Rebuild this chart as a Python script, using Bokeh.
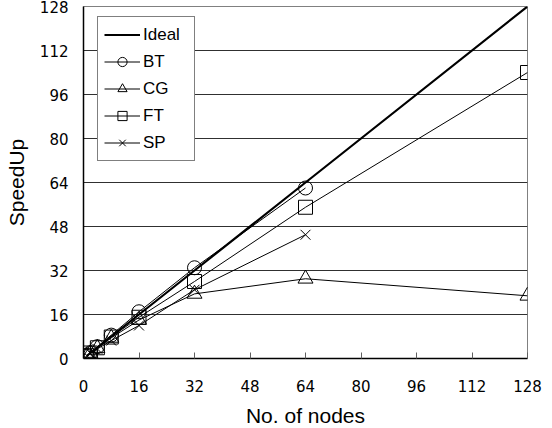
from bokeh.plotting import figure
from bokeh.models import Legend, LegendItem, FixedTicker
from bokeh.embed import file_html
from bokeh.resources import INLINE

nodes = [1, 2, 4, 8, 16, 32, 64, 128]
ideal = [1, 2, 4, 8, 16, 32, 64, 128]
bt_nodes = [1, 2, 4, 8, 16, 32, 64]
bt = [1, 2.1, 4.3, 8.5, 17, 33, 62]
cg_nodes = [1, 2, 4, 8, 16, 32, 64, 128]
cg = [1, 2, 3.8, 7.5, 14, 23.5, 29, 22.8]
ft_nodes = [1, 2, 4, 8, 16, 32, 64, 128]
ft = [1, 2, 3.9, 7.8, 15, 28, 55, 104]
sp_nodes = [1, 2, 4, 8, 16, 32, 64]
sp = [1, 1.9, 3.5, 6.5, 12, 25, 45]
ticks = [0, 16, 32, 48, 64, 80, 96, 112, 128]

TICK_FONT = "DejaVu Sans"
TITLE_FONT = "Liberation Sans"

p = figure(frame_width=444, frame_height=352, x_range=(0, 128), y_range=(0, 128),
           output_backend="svg", toolbar_location=None,
           min_border_left=83, min_border_right=25, min_border_top=6, min_border_bottom=70)
p.background_fill_color = "white"
p.outline_line_color = "#808080"
p.outline_line_width = 1

for ax in (p.xaxis[0], p.yaxis[0]):
    ax.ticker = FixedTicker(ticks=ticks)
    ax.axis_line_color = "black"
    ax.axis_line_width = 1.5
    ax.major_label_text_font = TICK_FONT
    ax.major_label_text_font_size = "15px"
    ax.major_label_text_color = "black"
    ax.minor_tick_line_color = None
    ax.axis_label_text_font = TITLE_FONT
    ax.axis_label_text_font_size = "21px"
    ax.axis_label_text_font_style = "normal"
    ax.axis_label_text_color = "black"

p.xaxis.axis_label = "No. of nodes"
p.yaxis.axis_label = "SpeedUp"
p.xaxis.major_tick_in = 6
p.xaxis.major_tick_out = 0
p.xaxis.major_tick_line_color = "#606060"
p.xaxis.major_label_standoff = 21
p.xaxis.axis_label_standoff = 9
p.yaxis.major_tick_in = 0
p.yaxis.major_tick_out = 0
p.yaxis.major_label_standoff = 15
p.yaxis.axis_label_standoff = 9

p.xgrid.grid_line_color = None
p.ygrid.grid_line_color = "#303030"
p.ygrid.grid_line_width = 1
p.ygrid.ticker = FixedTicker(ticks=ticks)

r_ideal = p.line(nodes, ideal, line_color="black", line_width=2.2)

r_bt_l = p.line(bt_nodes, bt, line_color="black", line_width=1)
r_bt_m = p.scatter(bt_nodes, bt, marker="circle", size=14, line_color="black",
                   fill_alpha=0, line_width=1)
r_cg_l = p.line(cg_nodes, cg, line_color="black", line_width=1)
r_cg_m = p.scatter(cg_nodes, cg, marker="triangle", size=15, line_color="black",
                   fill_alpha=0, line_width=1)
r_ft_l = p.line(ft_nodes, ft, line_color="black", line_width=1)
r_ft_m = p.scatter(ft_nodes, ft, marker="square", size=14, line_color="black",
                   fill_alpha=0, line_width=1)
r_sp_l = p.line(sp_nodes, sp, line_color="black", line_width=1)
r_sp_m = p.scatter(sp_nodes, sp, marker="x", size=14, line_color="black", line_width=1)

legend = Legend(items=[
    LegendItem(label="Ideal", renderers=[r_ideal]),
    LegendItem(label="BT", renderers=[r_bt_l, r_bt_m]),
    LegendItem(label="CG", renderers=[r_cg_l, r_cg_m]),
    LegendItem(label="FT", renderers=[r_ft_l, r_ft_m]),
    LegendItem(label="SP", renderers=[r_sp_l, r_sp_m]),
], location=(14, 197))
legend.border_line_color = "black"
legend.border_line_width = 1
legend.background_fill_color = "white"
legend.background_fill_alpha = 1
legend.label_text_font = TITLE_FONT
legend.label_text_font_size = "17px"
legend.label_text_color = "black"
legend.glyph_width = 36
legend.glyph_height = 23
legend.label_height = 23
legend.label_width = 45
legend.spacing = 4
legend.padding = 6
legend.margin = 0
legend.label_standoff = 3
p.add_layout(legend)

open("out.html", "w").write(file_html(p, INLINE))
